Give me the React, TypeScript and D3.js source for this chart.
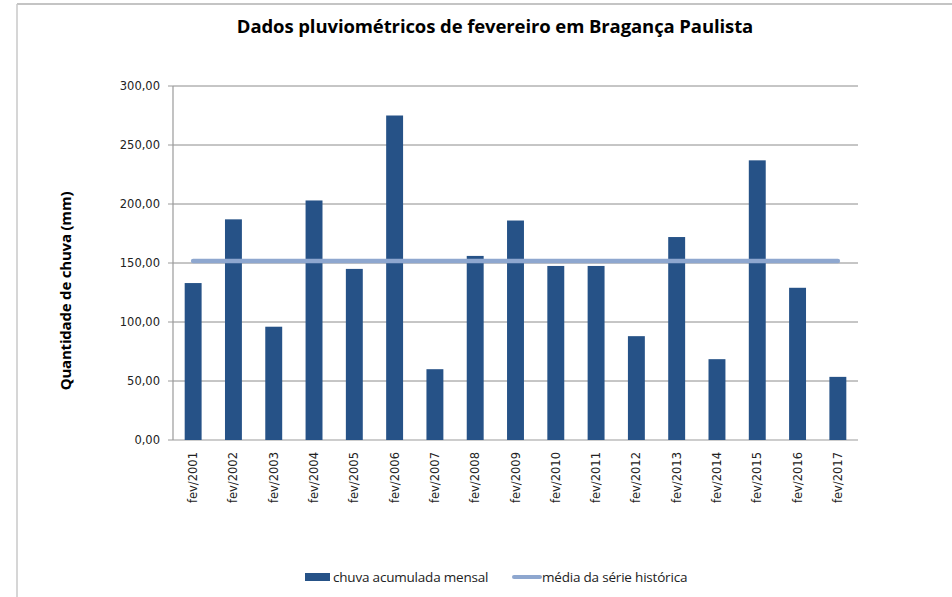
import React from "react";
import * as d3 from "d3";

const categories = [
  "fev/2001", "fev/2002", "fev/2003", "fev/2004", "fev/2005", "fev/2006",
  "fev/2007", "fev/2008", "fev/2009", "fev/2010", "fev/2011", "fev/2012",
  "fev/2013", "fev/2014", "fev/2015", "fev/2016", "fev/2017",
];
const rainfall = [
  133, 187, 96, 203, 145, 275, 60, 156, 186, 147.5, 147.5, 88, 172, 68.5, 237, 129, 53.5,
];
const historicalMean = 151.7;
const yTicks = [0, 50, 100, 150, 200, 250, 300];

const W = 952;
const H = 597;
const plot = { left: 173, right: 858, top: 86, bottom: 440 };

export default function App() {
  const x = d3
    .scaleBand<string>()
    .domain(categories)
    .range([plot.left, plot.right])
    .paddingInner(0.58)
    .paddingOuter(0.29);
  const y = d3.scaleLinear().domain([0, 300]).range([plot.bottom, plot.top]);
  const fmt = (v: number) => v.toFixed(2).replace(".", ",");
  const xc = (c: string) => (x(c) as number) + x.bandwidth() / 2;
  const meanLine = d3.line<string>()
    .x((c) => xc(c))
    .y(() => y(historicalMean));

  const fontTick = "'DejaVu Sans', Verdana, sans-serif";
  const fontTitle = "'Open Sans', 'Noto Sans', sans-serif";

  return (
    <svg
      width={W}
      height={H}
      style={{ position: "absolute", left: 0, top: 0, background: "#fff" }}
    >
      <rect x={0} y={0} width={W} height={H} fill="#fff" />
      {/* outer border */}
      <line x1={17} x2={W} y1={4} y2={4} stroke="#b0b0b0" strokeWidth={1.5} />
      <line x1={17} x2={17} y1={4} y2={H} stroke="#c8c8c8" strokeWidth={1.5} />

      <text
        x={495}
        y={33}
        textAnchor="middle"
        fontFamily={fontTitle}
        fontWeight="bold"
        fontSize={18.5}
        letterSpacing={-0.1}
        fill="#000"
      >
        Dados pluviométricos de fevereiro em Bragança Paulista
      </text>

      {/* gridlines */}
      {yTicks.map((t) => (
        <line
          key={"g" + t}
          x1={plot.left}
          x2={plot.right}
          y1={y(t)}
          y2={y(t)}
          stroke={t === 0 ? "#bdbdbd" : "#8c8c8c"}
          strokeWidth={t === 0 ? 1.5 : 1}
        />
      ))}
      <line x1={plot.left} x2={plot.left} y1={plot.top} y2={plot.bottom} stroke="#9a9a9a" strokeWidth={1.2} />
      {yTicks.map((t) => (
        <line key={"tk" + t} x1={plot.left - 5} x2={plot.left} y1={y(t)} y2={y(t)} stroke="#9a9a9a" />
      ))}

      {/* y tick labels */}
      {yTicks.map((t) => (
        <text
          key={"yl" + t}
          x={160}
          y={y(t) + 4}
          textAnchor="end"
          fontFamily={fontTick}
          fontSize={11.5}
          fill="#222"
        >
          {fmt(t)}
        </text>
      ))}

      {/* y axis title */}
      <text
        transform={`translate(71, ${(plot.top + plot.bottom) / 2 + 28}) rotate(-90)`}
        textAnchor="middle"
        fontFamily={fontTitle}
        fontWeight="bold"
        fontSize={15}
        letterSpacing={-0.2}
        fill="#000"
      >
        Quantidade de chuva (mm)
      </text>

      {/* bars */}
      {categories.map((c, i) => (
        <rect
          key={c}
          x={x(c)}
          y={y(rainfall[i])}
          width={x.bandwidth()}
          height={y(0) - y(rainfall[i])}
          fill="#265287"
        />
      ))}

      {/* mean line */}
      <path
        d={meanLine(categories) || ""}
        fill="none"
        stroke="#8ea7cf"
        strokeWidth={4.5}
        strokeLinecap="round"
      />

      {/* x labels */}
      {categories.map((c) => (
        <text
          key={"xl" + c}
          transform={`translate(${xc(c) + 4}, ${plot.bottom + 12}) rotate(-90)`}
          textAnchor="end"
          fontFamily={fontTick}
          fontSize={11.5}
          fill="#222"
        >
          {c}
        </text>
      ))}

      {/* legend */}
      <rect x={305} y={573} width={25} height={8} fill="#265287" />
      <text x={333} y={582} fontFamily={fontTitle} fontSize={13.5} letterSpacing={-0.2} fill="#222">
        chuva acumulada mensal
      </text>
      <line x1={514} x2={540} y1={577} y2={577} stroke="#8ea7cf" strokeWidth={4} strokeLinecap="round" />
      <text x={542} y={582} fontFamily={fontTitle} fontSize={13.5} letterSpacing={-0.2} fill="#222">
        média da série histórica
      </text>
    </svg>
  );
}
